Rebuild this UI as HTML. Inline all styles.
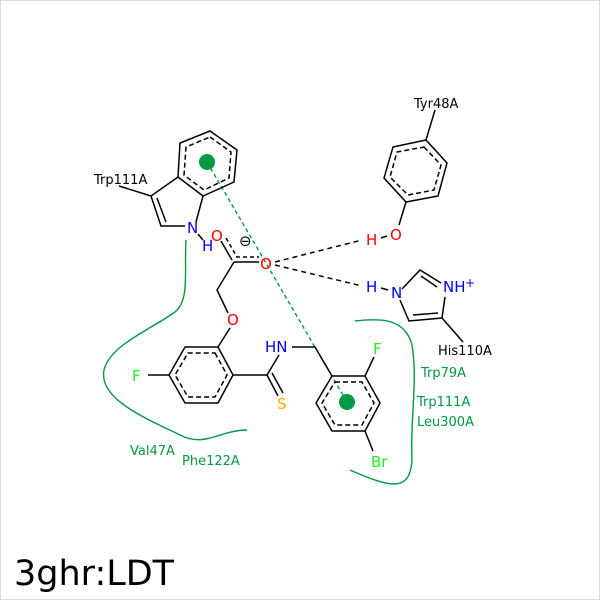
<!DOCTYPE html>
<html><head><style>body{margin:0;background:#fff}svg{display:block}text{font-family:"DejaVu Sans","Liberation Sans",sans-serif}</style></head><body>
<svg width="600" height="600" viewBox="0 0 600 600">
<rect x="0.5" y="0.5" width="599" height="599" fill="#fff" stroke="#ddd"/>
<g stroke="#009944" stroke-width="1.4" fill="none">
<path d="M186,240 C184,270 190,300 175,312 C150,330 110,345 104,370 C98,400 150,420 180,435 C205,448 220,430 247,430"/>
<path d="M355,321 C380,318 405,318 412,345 C418,380 410,420 412,460 C410,490 395,490 350,470"/>
</g>
<line x1="207" y1="162" x2="347" y2="402" stroke="#009944" stroke-width="1.4" stroke-dasharray="4,3"/>
<circle cx="207" cy="162" r="8" fill="#009944"/>
<circle cx="347" cy="402" r="8" fill="#009944"/>
<g stroke="#000" stroke-width="1.5" fill="none">
<polygon points="210,131 237,150 234,182 203,196 178,177 180,143"/>
<polygon points="210,137 231,152 229,178 204,190 184,175 186,147" stroke-dasharray="5,3"/>
<polyline points="178,177 151,196 161,226 185,226"/>
<line x1="157" y1="198" x2="166" y2="222"/>
<line x1="196" y1="222" x2="203" y2="196"/>
<line x1="119" y1="186" x2="151" y2="196"/>
<line x1="198" y1="234" x2="203" y2="240"/>
<line x1="221" y1="241" x2="232" y2="260"/>
<line x1="226" y1="238" x2="237" y2="257" stroke-dasharray="4,3"/>
<line x1="234" y1="262" x2="259" y2="262"/>
<line x1="236" y1="257" x2="259" y2="257" stroke-dasharray="4,3"/>
<polyline points="234,262 217,290 228,313"/>
<line x1="230" y1="328" x2="218" y2="347"/>
<polygon points="218,347 233,375 218,403 185,403 169,375 185,347"/>
<polygon points="215,353 227,375 215,397 188,397 175,375 188,353" stroke-dasharray="5,3"/>
<line x1="148" y1="375" x2="169" y2="375"/>
<line x1="233" y1="375" x2="267" y2="375"/>
<line x1="267" y1="375" x2="279" y2="355"/>
<line x1="267" y1="375" x2="278" y2="396"/>
<line x1="272" y1="373" x2="283" y2="393"/>
<polyline points="292,347 315,347 332,376"/>
<polygon points="332,376 365,376 380,403 365,431 332,431 316,403"/>
<polygon points="335,382 362,382 374,403 362,425 335,425 322,403" stroke-dasharray="5,3"/>
<line x1="365" y1="376" x2="374" y2="357"/>
<line x1="365" y1="431" x2="373" y2="451"/>
<line x1="435" y1="110" x2="426" y2="140"/>
<polygon points="426,140 447,163 438,196 406,202 384,178 393,147"/>
<polygon points="424,147 441,165 434,190 408,195 390,177 397,152" stroke-dasharray="5,3"/>
<line x1="406" y1="202" x2="399" y2="225"/>
<line x1="381" y1="238" x2="387" y2="236"/>
<polyline points="402,289 420,270 441,283"/>
<line x1="421" y1="276" x2="437" y2="287"/>
<polyline points="445,297 442,318 409,321 400,300"/>
<line x1="413" y1="315" x2="438" y2="313"/>
<line x1="442" y1="318" x2="463" y2="342"/>
<line x1="381" y1="288" x2="388" y2="290"/>
</g>
<g stroke="#000" stroke-width="1.5" stroke-dasharray="5,4">
<line x1="275" y1="262" x2="362" y2="240"/>
<line x1="275" y1="265" x2="362" y2="286"/>
</g>
<g font-size="13" fill="#000">
<text x="94" y="184">Trp111A</text>
<text x="414" y="108">Tyr48A</text>
<text x="438" y="355">His110A</text>
</g>
<g font-size="15">
<text x="187" y="233" fill="#00f">N</text>
<text x="202" y="251" fill="#00f">H</text>
<text x="211" y="241" fill="#f00">O</text>
<text x="260" y="269" fill="#f00">O</text>
<text x="227" y="325" fill="#f00">O</text>
<text x="239" y="246" fill="#000" font-size="15">⊖</text>
<text x="132" y="381" fill="#2e2">F</text>
<text x="265" y="352" fill="#00f">HN</text>
<text x="277" y="409" fill="#fa0">S</text>
<text x="373" y="354" fill="#2e2">F</text>
<text x="371" y="467" fill="#2e2">Br</text>
<text x="390" y="240" fill="#f00">O</text>
<text x="366" y="245" fill="#f00">H</text>
<text x="366" y="292" fill="#00f">H</text>
<text x="391" y="298" fill="#00f">N</text>
<text x="443" y="292" fill="#00f">NH</text>
<text x="465" y="287" fill="#00f" font-size="12">+</text>
</g>
<g font-size="13" fill="#009944">
<text x="130" y="455">Val47A</text>
<text x="182" y="465">Phe122A</text>
<text x="421" y="377">Trp79A</text>
<text x="417" y="406">Trp111A</text>
<text x="417" y="426">Leu300A</text>
</g>
<text x="14" y="585" font-size="35" fill="#000">3ghr:LDT</text>
</svg>
</body></html>
